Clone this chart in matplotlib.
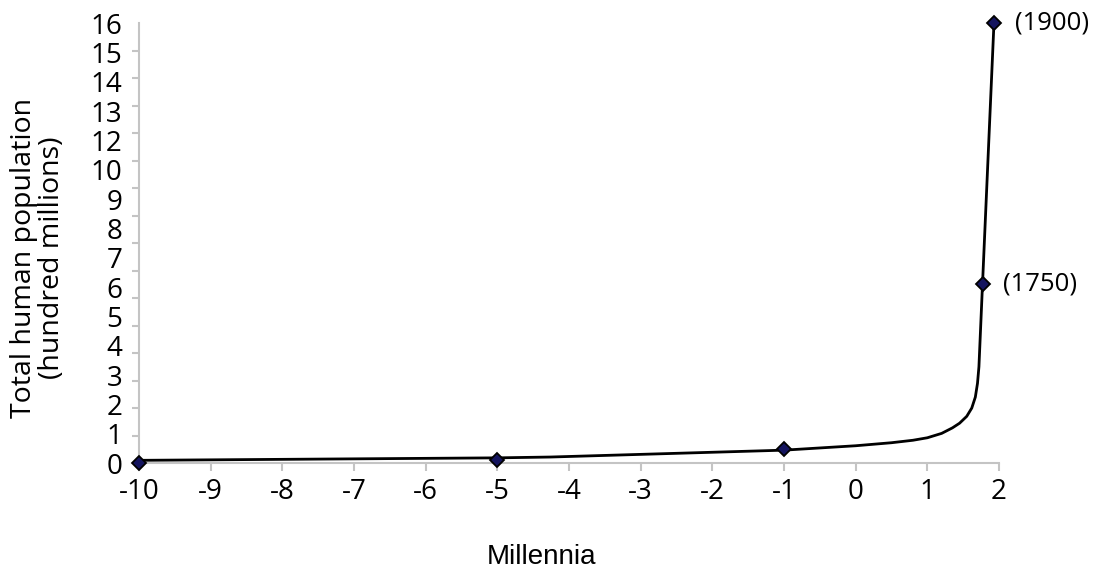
import numpy as np
import matplotlib
matplotlib.use("Agg")
import matplotlib.pyplot as plt

# Data
marker_x = [-10, -5, -1, 1.77, 1.93]
marker_y = [0.02, 0.1, 0.5, 6.5, 16.0]
curve_x = [-10, -5, -4.26, -1, 0, 0.5, 0.8, 1.0, 1.2, 1.35, 1.45, 1.55, 1.62, 1.67, 1.70, 1.72, 1.77, 1.93]
curve_y = [0.1, 0.19, 0.22, 0.47, 0.63, 0.74, 0.83, 0.92, 1.08, 1.28, 1.45, 1.7, 2.0, 2.4, 2.9, 3.5, 6.5, 16.0]
annot_labels = ["(1750)", "(1900)"]
annot_x = [1.77, 1.93]
annot_y = [6.5, 16.0]
xticks = list(range(-10, 3))
ytick_labels = ["0", "1", "2", "3", "4", "5", "6", "7", "8", "9", "10", "12", "13", "14", "15", "16"]

fig = plt.figure(figsize=(10.99, 5.71), dpi=100)
ax = fig.add_axes([0.1265, 0.189, 0.909 - 0.1265, 0.9597 - 0.189])

ax.plot(curve_x, curve_y, color="black", lw=2, zorder=3, clip_on=False)
ax.plot(marker_x, marker_y, linestyle="none", marker="D", markersize=7.5,
        markerfacecolor="#14145e", markeredgecolor="black", markeredgewidth=1.3,
        zorder=4, clip_on=False)

for lab, x, y in zip(annot_labels, annot_x, annot_y):
    ax.annotate(lab, (x, y), xytext=(15, 0), textcoords="offset points",
                ha="left", va="center", fontsize=18.5, family="Open Sans")

ax.set_xlim(-10, 2)
ax.set_ylim(0, 16)

for s in ["top", "right"]:
    ax.spines[s].set_visible(False)
for s in ["left", "bottom"]:
    ax.spines[s].set_color("#c4c4c4")
    ax.spines[s].set_linewidth(1.5)

ax.set_xticks(xticks)
ax.set_xticklabels([str(v) for v in xticks], family="Open Sans", fontsize=20)
ax.tick_params(axis="x", length=6, width=1.5, color="#c4c4c4", pad=5)

ax.set_yticks(np.arange(0, 17), minor=True)
ax.set_yticks(np.linspace(0, 16, len(ytick_labels)))
ax.set_yticklabels(ytick_labels, family="Open Sans", fontsize=20)
ax.tick_params(axis="y", which="major", length=0, pad=12)
ax.tick_params(axis="y", which="minor", length=5, width=1.5, color="#c4c4c4")

fig.text(0.035, 0.548, "Total human population\n(hundred millions)", rotation=90,
         ha="center", va="center", fontsize=20.5, family="Open Sans", linespacing=1.0)
fig.text(0.4925, 0.0245, "Millennia", ha="center", va="center", fontsize=20,
         family="Liberation Sans")

fig.savefig("out.png", dpi=100)
